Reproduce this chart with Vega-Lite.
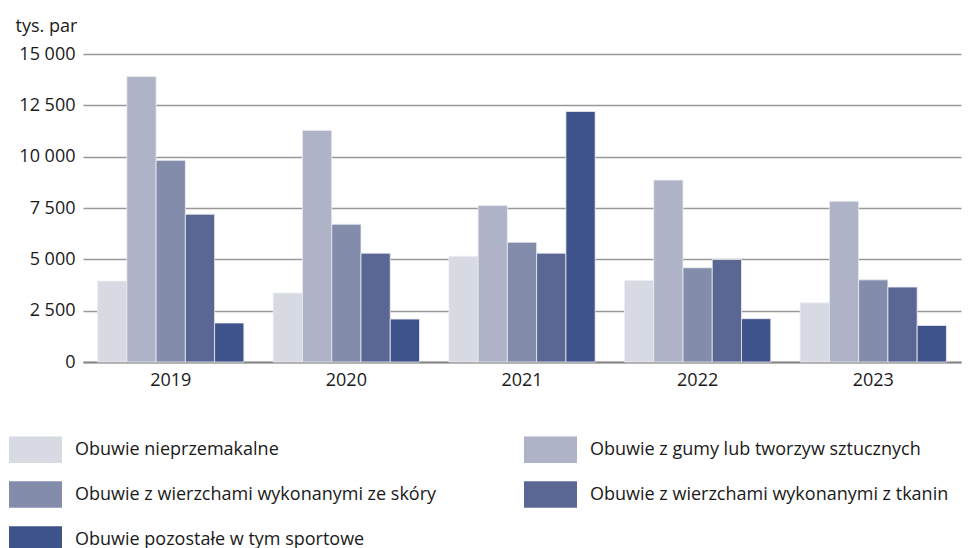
{
  "$schema": "https://vega.github.io/schema/vega-lite/v6.json",
  "width": 878,
  "height": 308,
  "autosize": "none",
  "padding": {"left": 83, "top": 54, "right": 18, "bottom": 186},
  "background": "white",
  "config": {
    "font": "Open Sans",
    "view": {"stroke": null}
  },
  "data": {
    "values": [
      {"rok": "2019", "kat": "Obuwie nieprzemakalne", "o": 1, "v": 3940},
      {"rok": "2019", "kat": "Obuwie z gumy lub tworzyw sztucznych", "o": 2, "v": 13900},
      {"rok": "2019", "kat": "Obuwie z wierzchami wykonanymi ze skóry", "o": 3, "v": 9820},
      {"rok": "2019", "kat": "Obuwie z wierzchami wykonanymi z tkanin", "o": 4, "v": 7195},
      {"rok": "2019", "kat": "Obuwie pozostałe w tym sportowe", "o": 5, "v": 1900},
      {"rok": "2020", "kat": "Obuwie nieprzemakalne", "o": 1, "v": 3360},
      {"rok": "2020", "kat": "Obuwie z gumy lub tworzyw sztucznych", "o": 2, "v": 11280},
      {"rok": "2020", "kat": "Obuwie z wierzchami wykonanymi ze skóry", "o": 3, "v": 6710},
      {"rok": "2020", "kat": "Obuwie z wierzchami wykonanymi z tkanin", "o": 4, "v": 5300},
      {"rok": "2020", "kat": "Obuwie pozostałe w tym sportowe", "o": 5, "v": 2090},
      {"rok": "2021", "kat": "Obuwie nieprzemakalne", "o": 1, "v": 5150},
      {"rok": "2021", "kat": "Obuwie z gumy lub tworzyw sztucznych", "o": 2, "v": 7620},
      {"rok": "2021", "kat": "Obuwie z wierzchami wykonanymi ze skóry", "o": 3, "v": 5830},
      {"rok": "2021", "kat": "Obuwie z wierzchami wykonanymi z tkanin", "o": 4, "v": 5300},
      {"rok": "2021", "kat": "Obuwie pozostałe w tym sportowe", "o": 5, "v": 12200},
      {"rok": "2022", "kat": "Obuwie nieprzemakalne", "o": 1, "v": 3970},
      {"rok": "2022", "kat": "Obuwie z gumy lub tworzyw sztucznych", "o": 2, "v": 8860},
      {"rok": "2022", "kat": "Obuwie z wierzchami wykonanymi ze skóry", "o": 3, "v": 4590},
      {"rok": "2022", "kat": "Obuwie z wierzchami wykonanymi z tkanin", "o": 4, "v": 4990},
      {"rok": "2022", "kat": "Obuwie pozostałe w tym sportowe", "o": 5, "v": 2110},
      {"rok": "2023", "kat": "Obuwie nieprzemakalne", "o": 1, "v": 2880},
      {"rok": "2023", "kat": "Obuwie z gumy lub tworzyw sztucznych", "o": 2, "v": 7830},
      {"rok": "2023", "kat": "Obuwie z wierzchami wykonanymi ze skóry", "o": 3, "v": 4000},
      {"rok": "2023", "kat": "Obuwie z wierzchami wykonanymi z tkanin", "o": 4, "v": 3650},
      {"rok": "2023", "kat": "Obuwie pozostałe w tym sportowe", "o": 5, "v": 1780}
    ]
  },
  "mark": {"type": "bar", "stroke": "#eceef3", "strokeWidth": 0.8},
  "encoding": {
    "x": {
      "field": "rok", "type": "nominal",
      "scale": {"paddingInner": 0.167, "paddingOuter": 0.083},
      "axis": {
        "title": null, "labelAngle": 0, "ticks": false,
        "domainColor": "#888888", "domainWidth": 2,
        "labelFontSize": 18, "labelColor": "#1a1a1a", "labelPadding": 9
      }
    },
    "xOffset": {"field": "o", "type": "ordinal", "scale": {"paddingInner": 0, "paddingOuter": 0}},
    "y": {
      "field": "v", "type": "quantitative",
      "scale": {"domain": [0, 15000]},
      "axis": {
        "values": [0, 2500, 5000, 7500, 10000, 12500, 15000],
        "format": ",d",
        "labelExpr": "replace(datum.label, ',', ' ')",
        "title": "tys. par", "titleAngle": 0, "titleAlign": "left", "titleBaseline": "bottom",
        "titleX": -68, "titleY": -19, "titleFontSize": 18, "titleFontWeight": "normal", "titleColor": "#1a1a1a",
        "ticks": false, "domain": false,
        "gridColor": "#999999", "gridWidth": 1.3,
        "labelFontSize": 18, "labelColor": "#1a1a1a", "labelPadding": 8
      }
    },
    "color": {
      "field": "kat", "type": "nominal",
      "scale": {
        "domain": ["Obuwie nieprzemakalne", "Obuwie z wierzchami wykonanymi ze skóry", "Obuwie pozostałe w tym sportowe", "Obuwie z gumy lub tworzyw sztucznych", "Obuwie z wierzchami wykonanymi z tkanin"],
        "range": ["#d8dae3", "#848cab", "#3e538c", "#aeb3c8", "#5a6795"]
      },
      "legend": {
        "title": null, "orient": "none", "legendX": -74, "legendY": 369,
        "columns": 2, "columnPadding": 87, "rowPadding": 5,
        "symbolType": "M-1,-0.5L1,-0.5L1,0.5L-1,0.5Z", "symbolSize": 2809,
        "symbolStrokeWidth": 0, "symbolOpacity": 1,
        "labelFontSize": 18, "labelColor": "#1a1a1a", "labelOffset": 13, "labelLimit": 500
      }
    }
  }
}
